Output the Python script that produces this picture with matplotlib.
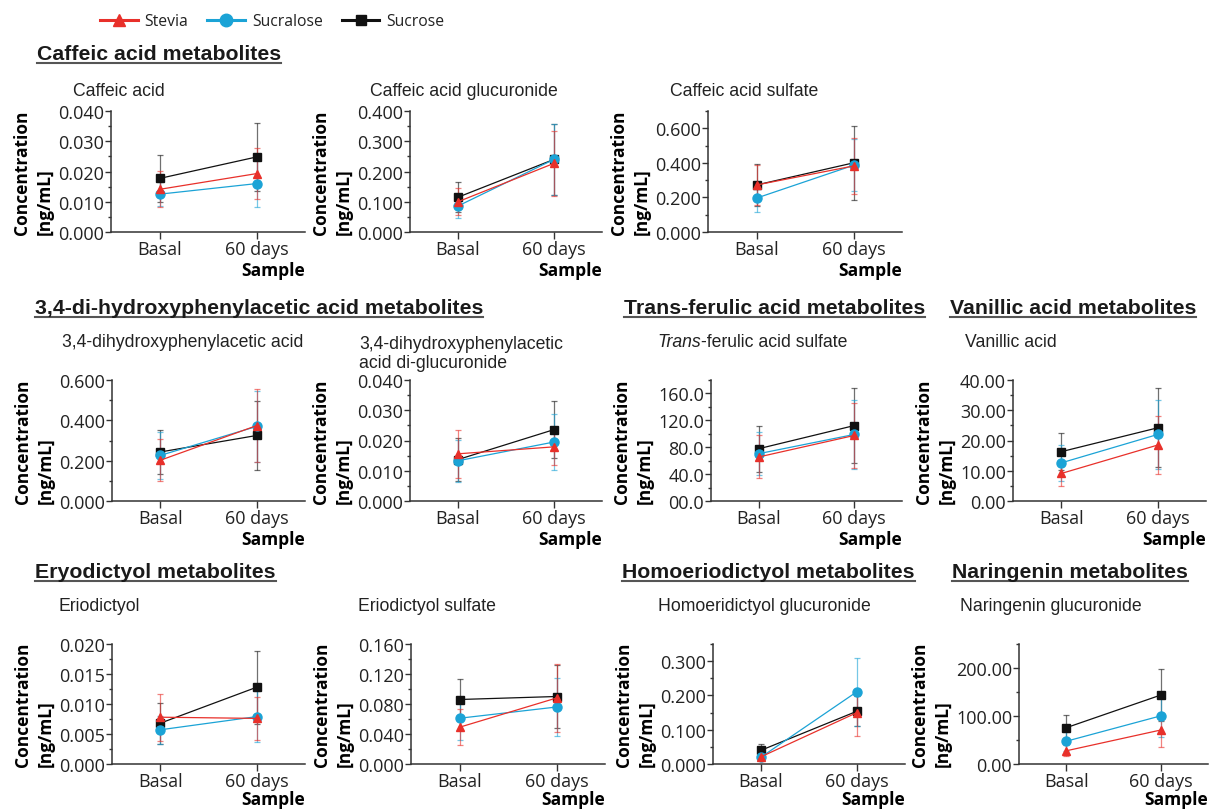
import matplotlib
matplotlib.use("Agg")
import matplotlib.pyplot as plt
from matplotlib.lines import Line2D
from matplotlib.ticker import MultipleLocator, FormatStrFormatter

# ---------------- data (mean and SD) ---------------- #
samples = ["Basal", "60 days"]
groups = ["Stevia", "Sucralose", "Sucrose"]

caffeic_acid = {"Stevia": [0.0141, 0.0193], "Sucralose": [0.0125, 0.0160], "Sucrose": [0.0177, 0.0248]}
caffeic_acid_sd = {"Stevia": [0.0060, 0.0085], "Sucralose": [0.0040, 0.0077], "Sucrose": [0.0078, 0.0111]}

caffeic_gluc = {"Stevia": [0.100, 0.227], "Sucralose": [0.086, 0.240], "Sucrose": [0.115, 0.240]}
caffeic_gluc_sd = {"Stevia": [0.045, 0.107], "Sucralose": [0.040, 0.118], "Sucrose": [0.050, 0.118]}

caffeic_sulf = {"Stevia": [0.272, 0.382], "Sucralose": [0.196, 0.386], "Sucrose": [0.272, 0.400]}
caffeic_sulf_sd = {"Stevia": [0.117, 0.162], "Sucralose": [0.080, 0.150], "Sucrose": [0.120, 0.214]}

dhpaa = {"Stevia": [0.202, 0.374], "Sucralose": [0.226, 0.370], "Sucrose": [0.243, 0.325]}
dhpaa_sd = {"Stevia": [0.103, 0.180], "Sucralose": [0.115, 0.176], "Sucrose": [0.107, 0.170]}

dhpaa_digluc = {"Stevia": [0.0156, 0.0179], "Sucralose": [0.0133, 0.0195], "Sucrose": [0.0137, 0.0236]}
dhpaa_digluc_sd = {"Stevia": [0.0080, 0.0060], "Sucralose": [0.0070, 0.0092], "Sucrose": [0.0071, 0.0094]}

ferulic_sulf = {"Stevia": [65.5, 97.5], "Sucralose": [70.4, 99.0], "Sucrose": [77.8, 112.2]}
ferulic_sulf_sd = {"Stevia": [32.0, 48.0], "Sucralose": [32.0, 51.0], "Sucrose": [34.0, 56.0]}

vanillic = {"Stevia": [9.1, 18.5], "Sucralose": [12.6, 22.0], "Sucrose": [16.3, 24.2]}
vanillic_sd = {"Stevia": [4.0, 9.5], "Sucralose": [6.0, 11.4], "Sucrose": [6.1, 13.0]}

eriodictyol = {"Stevia": [0.0078, 0.0076], "Sucralose": [0.0057, 0.0079], "Sucrose": [0.0068, 0.0128]}
eriodictyol_sd = {"Stevia": [0.0039, 0.0036], "Sucralose": [0.0023, 0.0042], "Sucrose": [0.0034, 0.0061]}

eriodictyol_sulf = {"Stevia": [0.049, 0.088], "Sucralose": [0.061, 0.076], "Sucrose": [0.086, 0.090]}
eriodictyol_sulf_sd = {"Stevia": [0.024, 0.045], "Sucralose": [0.029, 0.039], "Sucrose": [0.028, 0.042]}

homoerio_gluc = {"Stevia": [0.021, 0.150], "Sucralose": [0.020, 0.211], "Sucrose": [0.040, 0.154]}
homoerio_gluc_sd = {"Stevia": [0.008, 0.069], "Sucralose": [0.008, 0.099], "Sucrose": [0.018, 0.044]}

naringenin_gluc = {"Stevia": [27.5, 70.8], "Sucralose": [47.4, 100.3], "Sucrose": [75.6, 143.6]}
naringenin_gluc_sd = {"Stevia": [11.5, 35.8], "Sucralose": [20.0, 45.0], "Sucrose": [26.0, 54.5]}

# ---------------- styles ---------------- #
colors = {"Stevia": "#E8302A", "Sucralose": "#1BA3D6", "Sucrose": "#111111"}
markers = {"Stevia": "^", "Sucralose": "o", "Sucrose": "s"}
msizes = {"Stevia": 5.5, "Sucralose": 6.5, "Sucrose": 5.5}
zorders = {"Stevia": 5, "Sucralose": 4, "Sucrose": 3}

W, H = 1211, 812
plt.rcParams['font.family'] = ['Open Sans', 'DejaVu Sans']
plt.rcParams['text.color'] = '#222222'
plt.rcParams['axes.edgecolor'] = '#333333'
plt.rcParams['xtick.color'] = '#333333'
plt.rcParams['ytick.color'] = '#333333'
plt.rcParams['xtick.labelcolor'] = '#222222'
plt.rcParams['ytick.labelcolor'] = '#222222'

fig = plt.figure(figsize=(W / 100, H / 100), dpi=100)

# (data, sd, (left, right, top, bottom) in px, ymax, major, minor, tick format)
panels = [
    (caffeic_acid, caffeic_acid_sd, (111, 305, 112, 233), 0.04, 0.01, 0.005, '%.3f'),
    (caffeic_gluc, caffeic_gluc_sd, (410, 602, 112, 233), 0.4, 0.1, 0.05, '%.3f'),
    (caffeic_sulf, caffeic_sulf_sd, (708, 902, 112, 233), 0.7, 0.2, 0.1, '%.3f'),
    (dhpaa, dhpaa_sd, (112, 305, 381, 502), 0.6, 0.2, 0.1, '%.3f'),
    (dhpaa_digluc, dhpaa_digluc_sd, (410, 602, 381, 502), 0.04, 0.01, 0.005, '%.3f'),
    (ferulic_sulf, ferulic_sulf_sd, (711, 902, 381, 502), 180, 40, 20, '%04.1f'),
    (vanillic, vanillic_sd, (1013, 1206, 381, 502), 40, 10, 5, '%.2f'),
    (eriodictyol, eriodictyol_sd, (112, 305, 645, 765), 0.02, 0.005, 0.0025, '%.3f'),
    (eriodictyol_sulf, eriodictyol_sulf_sd, (411, 605, 645, 765), 0.16, 0.04, 0.02, '%.3f'),
    (homoerio_gluc, homoerio_gluc_sd, (713, 905, 645, 765), 0.35, 0.1, 0.05, '%.3f'),
    (naringenin_gluc, naringenin_gluc_sd, (1019, 1208, 645, 765), 250, 100, 50, '%.2f'),
]

for data, sd, (l, r, t, b), ymax, major, minor, fmt in panels:
    ax = fig.add_axes([l / W, 1 - b / H, (r - l) / W, (b - t) / H])
    x = [0, 1]
    for g in groups:
        ax.errorbar(x, data[g], yerr=sd[g], fmt='none', ecolor=colors[g], alpha=0.6,
                    elinewidth=0.9, capsize=2, capthick=0.9, zorder=zorders[g] - 2)
        ax.plot(x, data[g], color=colors[g], marker=markers[g], ms=msizes[g],
                lw=0.9, zorder=zorders[g], clip_on=False)
    ax.set_xlim(-0.5, 1.5)
    ax.set_ylim(0, ymax)
    ax.set_xticks(x, samples)
    ax.yaxis.set_major_locator(MultipleLocator(major))
    ax.yaxis.set_minor_locator(MultipleLocator(minor))
    ax.yaxis.set_major_formatter(FormatStrFormatter(fmt))
    ax.spines['top'].set_visible(False)
    ax.spines['right'].set_visible(False)
    for s in ('left', 'bottom'):
        ax.spines[s].set_linewidth(1.1)
    ax.tick_params(axis='y', which='major', length=4, width=1, labelsize=13, pad=1)
    ax.tick_params(axis='y', which='minor', length=2.5, width=1)
    ax.tick_params(axis='x', length=5, width=1, labelsize=13, pad=1)
    ax.set_ylabel("Concentration\n[ng/mL]", fontweight='bold', fontsize=12.5,
                  multialignment='left', linespacing=1.35, labelpad=3)
    ax.set_xlabel("Sample", loc='right', fontweight='bold', fontsize=12.5,
                  labelpad=0 if b > 700 else 2)

# ---------------- section headings and panel titles ---------------- #
headings = [
    ("Caffeic acid metabolites", 37, 55),
    ("3,4-di-hydroxyphenylacetic acid metabolites", 35, 309),
    ("Trans-ferulic acid metabolites", 624, 309),
    ("Vanillic acid metabolites", 950, 309),
    ("Eryodictyol metabolites", 35, 573),
    ("Homoeriodictyol metabolites", 622, 573),
    ("Naringenin metabolites", 952, 573),
]
titles = [
    ("Caffeic acid", 73, 91),
    ("Caffeic acid glucuronide", 370, 91),
    ("Caffeic acid sulfate", 670, 91),
    ("3,4-dihydroxyphenylacetic acid", 62, 343),
    ("3,4-dihydroxyphenylacetic\nacid di-glucuronide", 359, 354),
    ("Vanillic acid", 965, 343),
    ("Eriodictyol", 58, 607),
    ("Eriodictyol sulfate", 358, 607),
    ("Homoeridictyol glucuronide", 658, 607),
    ("Naringenin glucuronide", 960, 607),
]

head_texts = []
for txt, hx, hy in headings:
    ht = fig.text(hx / W, 1 - hy / H, txt, family='Liberation Sans', fontweight='bold',
                  fontsize=15.3, va='center', ha='left', color='#1a1a1a')
    head_texts.append((ht, hy))

for txt, tx, ty in titles:
    fig.text(tx / W, 1 - ty / H, txt, family='Liberation Sans', fontsize=12.7,
             va='center', ha='left', linespacing=1.2)

# italic "Trans" followed by the rest of the title
tr = fig.text(657 / W, 1 - 343 / H, "Trans", family='Liberation Sans', style='italic',
              fontsize=12.7, va='center', ha='left')
plt.annotate("-ferulic acid sulfate", xy=(1, 0), xycoords=tr, va='bottom', ha='left',
             family='Liberation Sans', fontsize=12.7, annotation_clip=False)

# underline the headings
fig.canvas.draw()
renderer = fig.canvas.get_renderer()
for ht, hy in head_texts:
    bb = ht.get_window_extent(renderer)
    yu = 1 - (hy + 9) / H
    fig.add_artist(Line2D([bb.x0 / W, bb.x1 / W], [yu, yu], transform=fig.transFigure,
                          color='#555555', lw=1.5))

# ---------------- legend ---------------- #
handles = [Line2D([], [], color=colors[g], marker=markers[g], lw=2.2,
                  ms={"Stevia": 8, "Sucralose": 9, "Sucrose": 7.5}[g]) for g in groups]
fig.legend(handles, groups, loc='center left', bbox_to_anchor=(100 / W, 1 - 22 / H),
           ncol=3, frameon=False, fontsize=11.3, handlelength=2.4, handletextpad=0.45,
           columnspacing=1.2, borderaxespad=0, borderpad=0)

fig.savefig("out.png", dpi=100)
